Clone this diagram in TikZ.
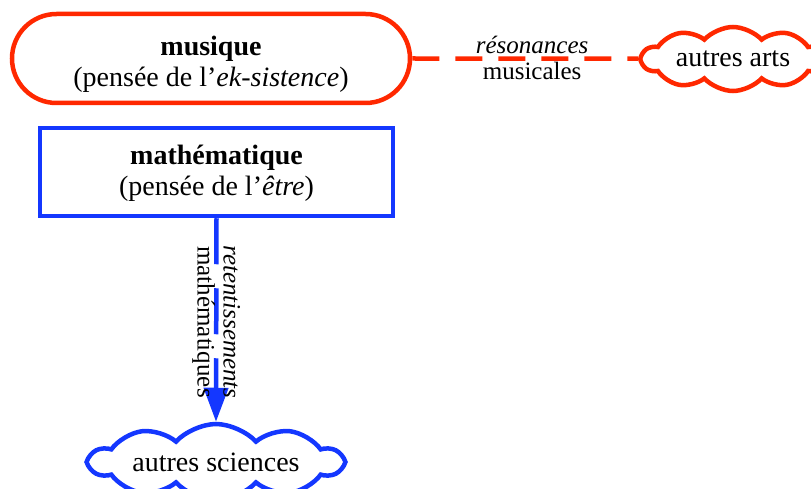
\documentclass[tikz,border=0pt]{standalone}
\usepackage{fontspec}
\setmainfont{Liberation Serif}
\usetikzlibrary{shapes.symbols,shapes.misc,arrows.meta}
\definecolor{myred}{RGB}{255,40,0}
\definecolor{myblue}{RGB}{20,55,255}
\begin{document}
\begin{tikzpicture}[x=1pt,y=-1pt,
  every node/.style={font=\fontsize{28}{31}\selectfont},
  lbl/.style={font=\fontsize{25}{28}\selectfont,text=black,inner sep=0pt},
  bigbox/.style={draw,line width=4.5pt,align=center,inner sep=0pt},
  cloudbox/.style={draw,line width=4.5pt,shape=cloud,cloud puffs=10,cloud puff arc=95,cloud ignores aspect,inner sep=0pt},
]
\useasboundingbox (0,0) rectangle (811,489);
\node[bigbox,myred,rounded rectangle,minimum width=398pt,minimum height=89pt,text=black] (mus) at (211,58.5)
  {\rule{0pt}{30pt}\textbf{musique}\\(pensée de l'\textit{ek-sistence})};
\node[bigbox,myblue,rectangle,minimum width=353pt,minimum height=88pt,text=black] (math) at (216.5,172)
  {\rule{0pt}{22pt}\textbf{mathématique}\\(pensée de l'\textit{être})};
\node[cloudbox,myred,minimum width=182pt,minimum height=64pt,text=black] (arts) at (733,59) {autres arts};
\node[cloudbox,myblue,minimum width=252pt,minimum height=76pt,text=black] (sci) at (216,462) {autres sciences};
\draw[myred,line width=4.5pt,dash pattern=on 27pt off 16pt] (mus.east) -- (arts.west)
  node[lbl,midway,above=3pt,xshift=7pt] {\textit{résonances}}
  node[lbl,midway,below=1pt,xshift=7pt] {musicales};
\draw[myblue,line width=4.5pt,dash pattern=on 46pt off 24pt,-{Triangle[length=34pt,width=24pt]}] (math.south) -- (sci.north)
  node[lbl,pos=0.51,rotate=-90,anchor=south,yshift=5pt] {\textit{retentissements}}
  node[lbl,pos=0.51,rotate=-90,anchor=north,yshift=1pt] {mathématiques};
\end{tikzpicture}
\end{document}
